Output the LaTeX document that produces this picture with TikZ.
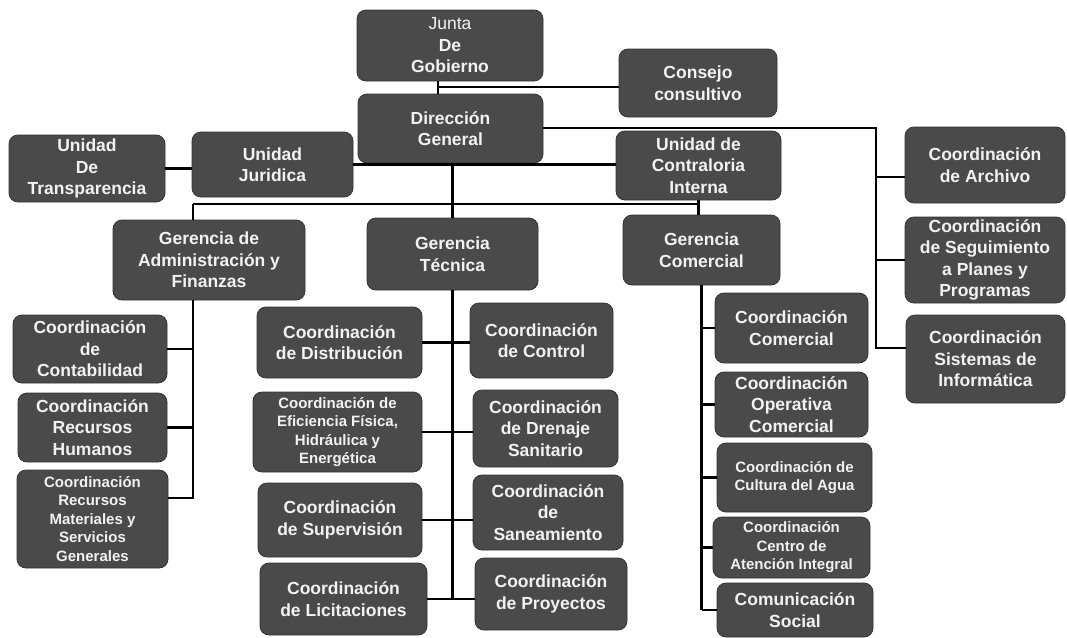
\documentclass[tikz,border=0pt]{standalone}
\usepackage{fontspec}
\setmainfont{Liberation Sans}
\usetikzlibrary{calc}
\definecolor{boxfill}{HTML}{4A4A4A}
\definecolor{boxedge}{HTML}{333333}
\definecolor{boxtext}{HTML}{F2F2F2}
\tikzset{
  orgbox/.style={draw=boxedge, line width=0.8pt, fill=boxfill, rounded corners=9pt,
    text=boxtext, font=\bfseries\fontsize{17.5}{21.5}\selectfont, align=center, inner sep=0pt},
  smallbox/.style={orgbox, font=\bfseries\fontsize{15}{18.5}\selectfont},
  link/.style={line width=2.8pt, draw=black},
}
\begin{document}
\begin{tikzpicture}[x=1pt,y=-1pt]
\useasboundingbox (0,0) rectangle (1067,637);

% top level
\node[orgbox, minimum width=186pt, minimum height=71pt] (junta) at (450,45.5) {{\mdseries Junta}\\De\\Gobierno};
\node[orgbox, minimum width=158pt, minimum height=68pt] (consejo) at (698,83) {Consejo\\consultivo};
\node[orgbox, minimum width=185pt, minimum height=69pt] (direccion) at (450.5,128.5) {Dirección\\General};
\node[orgbox, minimum width=156pt, minimum height=67pt] (transp) at (87,168.5) {Unidad\\De\\Transparencia};
\node[orgbox, minimum width=161pt, minimum height=65pt] (juridica) at (272.5,164.5) {Unidad\\Juridica};
\node[orgbox, minimum width=165pt, minimum height=69pt] (contraloria) at (698.5,165.5) {Unidad de\\Contraloria\\Interna};

% right column
\node[orgbox, minimum width=160pt, minimum height=76pt] (archivo) at (985,165) {Coordinación\\de Archivo};
\node[orgbox, minimum width=160pt, minimum height=86pt] (seguim) at (985,260) {Coordinación\\de Seguimiento\\a Planes y\\Programas};
\node[orgbox, minimum width=159pt, minimum height=88pt] (sistemas) at (985.5,359) {Coordinación\\Sistemas de\\Informática};

% gerencias
\node[orgbox, minimum width=192pt, minimum height=80pt] (gadm) at (209,260) {Gerencia de\\Administración y\\Finanzas};
\node[orgbox, minimum width=171pt, minimum height=72pt] (gtec) at (452.5,254) {Gerencia\\Técnica};
\node[orgbox, minimum width=157pt, minimum height=70pt] (gcom) at (701.5,250) {Gerencia\\Comercial};

% administracion
\node[orgbox, minimum width=154pt, minimum height=68pt] (contab) at (90,349) {Coordinación\\de\\Contabilidad};
\node[orgbox, minimum width=149pt, minimum height=69pt] (rrhh) at (92.5,427.5) {Coordinación\\Recursos\\Humanos};
\node[smallbox, minimum width=151pt, minimum height=98pt] (rmat) at (92.5,519) {Coordinación\\Recursos\\Materiales y\\Servicios\\Generales};

% tecnica
\node[orgbox, minimum width=165pt, minimum height=71pt] (distrib) at (339.5,342.5) {Coordinación\\de Distribución};
\node[orgbox, minimum width=143pt, minimum height=75pt] (control) at (541.5,340.5) {Coordinación\\de Control};
\node[smallbox, minimum width=169pt, minimum height=80pt] (eficiencia) at (337.5,432) {Coordinación de\\Eficiencia Física,\\Hidráulica y\\Energética};
\node[orgbox, minimum width=145pt, minimum height=77pt] (drenaje) at (545.5,428.5) {Coordinación\\de Drenaje\\Sanitario};
\node[orgbox, minimum width=164pt, minimum height=74pt] (superv) at (340,520) {Coordinación\\de Supervisión};
\node[orgbox, minimum width=150pt, minimum height=75pt] (saneam) at (548,512.5) {Coordinación\\de\\Saneamiento};
\node[orgbox, minimum width=167pt, minimum height=72pt] (licit) at (343.5,599) {Coordinación\\de Licitaciones};
\node[orgbox, minimum width=152pt, minimum height=72pt] (proyect) at (551,594) {Coordinación\\de Proyectos};

% comercial
\node[orgbox, minimum width=153pt, minimum height=70pt] (ccom) at (791.5,328) {Coordinación\\Comercial};
\node[orgbox, minimum width=153pt, minimum height=65pt] (coper) at (791.5,404.5) {Coordinación\\Operativa\\Comercial};
\node[smallbox, minimum width=155pt, minimum height=69pt] (cultura) at (794.5,477.5) {Coordinación de\\Cultura del Agua};
\node[smallbox, minimum width=157pt, minimum height=61pt] (centro) at (791.5,547.5) {Coordinación\\Centro de\\Atención Integral};
\node[orgbox, minimum width=156pt, minimum height=54pt] (comun) at (795,610) {Comunicación\\Social};

% helper coordinates
\coordinate (jd) at (438,87);
\coordinate (rbus) at (876,128);
\coordinate (bus) at (453,204);
\coordinate (adx) at (193,204);
\path ([yshift=-12pt]archivo.west) coordinate (archb);
\path ([yshift=11pt]sistemas.west) coordinate (sisb);
\path ([yshift=21pt]rmat.east) coordinate (rmb);

% connectors
\draw[link] (junta.south -| jd) -- (direccion.north -| jd);
\draw[link] (jd) -- (jd -| consejo.west);
\draw[link] (direccion.east |- rbus) -- (rbus) -- (rbus |- sisb) -- (sisb);
\draw[link] (rbus |- archb) -- (archb);
\draw[link] (rbus |- seguim.west) -- (seguim.west);
\draw[link] (transp.east) -- (transp.east -| juridica.west);
\draw[link] (juridica.east) -- (juridica.east -| contraloria.west);
\draw[link] (direccion.south -| gtec.north) -- (gtec.north);
\draw[link] (adx) -- (contraloria.south |- bus);
\draw[link] (adx) -- (adx |- gadm.north);
\draw[link] (contraloria.south) -- (contraloria.south |- gcom.north);

% administracion branch
\draw[link] (adx |- gadm.south) -- (adx |- rmb) -- (rmb);
\draw[link] (contab.east) -- (contab.east -| adx);
\draw[link] (rrhh.east) -- (rrhh.east -| adx);

% tecnica branch
\draw[link] (gtec.south) -- (gtec.south |- licit.east);
\draw[link] (distrib.east) -- (distrib.east -| control.west);
\draw[link] (eficiencia.east) -- (eficiencia.east -| drenaje.west);
\draw[link] (superv.east) -- (superv.east -| saneam.west);
\draw[link] (licit.east) -- (licit.east -| proyect.west);

% comercial branch
\draw[link] (gcom.south) -- (gcom.south |- comun.west);
\draw[link] (gcom.south |- ccom.west) -- (ccom.west);
\draw[link] (gcom.south |- coper.west) -- (coper.west);
\draw[link] (gcom.south |- cultura.west) -- (cultura.west);
\draw[link] (gcom.south |- centro.west) -- (centro.west);
\draw[link] (gcom.south |- comun.west) -- (comun.west);
\end{tikzpicture}
\end{document}
